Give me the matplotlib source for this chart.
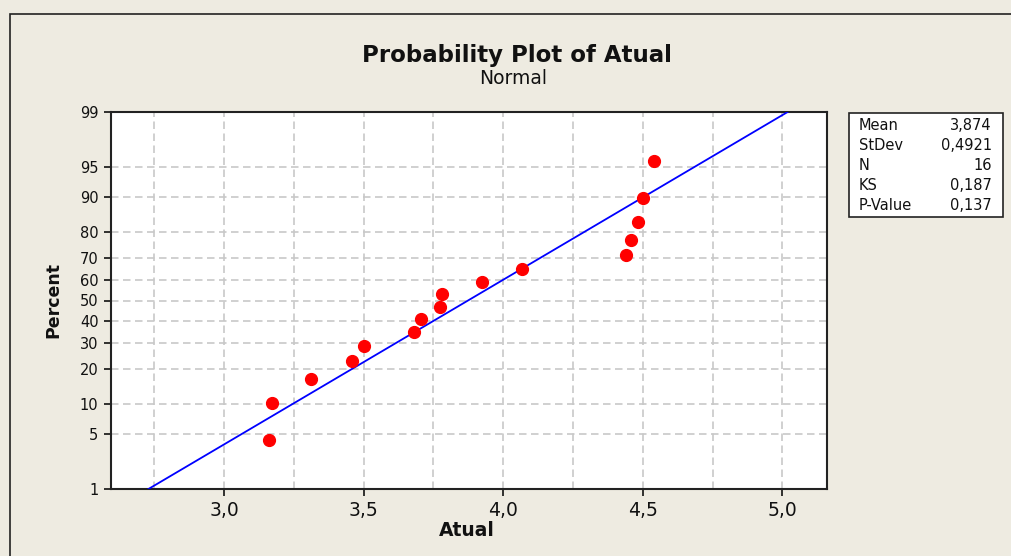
import numpy as np
import matplotlib
matplotlib.use("Agg")
import matplotlib.pyplot as plt
from matplotlib.patches import Rectangle
from statistics import NormalDist

# values
atual = [3.161, 3.173, 3.313, 3.458, 3.503, 3.679, 3.705, 3.773,
         3.780, 3.925, 4.066, 4.439, 4.458, 4.484, 4.502, 4.540]
percent = [4.3, 10.4, 16.5, 22.6, 28.7, 34.8, 40.9, 47.0,
           53.0, 59.1, 65.2, 71.3, 77.4, 83.5, 89.6, 95.7]
mean, stdev = 3.874, 0.4921
stat_names = ["Mean", "StDev", "N", "KS", "P-Value"]
stat_values = ["3,874", "0,4921", "16", "0,187", "0,137"]
y_ticks = [1, 5, 10, 20, 30, 40, 50, 60, 70, 80, 90, 95, 99]
x_ticks = [3.0, 3.5, 4.0, 4.5, 5.0]
x_labels = ["3,0", "3,5", "4,0", "4,5", "5,0"]

nd = NormalDist()

def fwd(p):
    p = np.clip(np.asarray(p, dtype=float), 1e-9, 100 - 1e-9)
    return np.vectorize(nd.inv_cdf, otypes=[float])(p / 100.0)

def inv(z):
    return np.vectorize(nd.cdf, otypes=[float])(np.asarray(z, dtype=float)) * 100.0

W, H = 1012, 556
bg = "#eeebe1"
fig = plt.figure(figsize=(W / 100, H / 100), dpi=100, facecolor=bg)

# outer frame
fig.patches.append(Rectangle((10 / W, -0.1), 1.2, 1.1 - 14 / H + 0.0,
                             transform=fig.transFigure, fill=False,
                             edgecolor="#222222", lw=1.2))

ax = fig.add_axes([111 / W, 1 - 489 / H, (827 - 111) / W, (489 - 112) / H])
ax.set_facecolor("white")
ax.set_yscale("function", functions=(fwd, inv))
ax.set_ylim(1, 99)
ax.set_xlim(2.595, 5.160)

# fitted line
line_p = np.array([1.0, 99.0])
line_x = mean + stdev * fwd(line_p)
ax.plot(line_x, line_p, color="#0000ff", lw=1.3, zorder=3)
ax.plot(atual, percent, "o", color="#ff0000", ms=8.5, mec="#ff0000", zorder=4)

ax.set_yticks(y_ticks)
ax.set_yticklabels([str(t) for t in y_ticks])
ax.yaxis.set_minor_locator(matplotlib.ticker.NullLocator())
ax.set_xticks(x_ticks)
ax.set_xticklabels(x_labels)
ax.set_xticks([2.75, 3.25, 3.75, 4.25, 4.75], minor=True)

grid_kw = dict(color="#c8c8c8", lw=1.2, linestyle=(0, (4.5, 2.7)), zorder=1)
ax.grid(True, which="both", axis="x", **grid_kw)
ax.grid(True, which="major", axis="y", **grid_kw)
ax.set_axisbelow(True)

ax.tick_params(axis="y", length=5, width=1.2, pad=4, labelsize=10.5, colors="#111111")
ax.tick_params(axis="x", which="major", length=5, width=1.2, pad=4, labelsize=13.5, colors="#111111")
ax.tick_params(axis="x", which="minor", length=0)
for s in ax.spines.values():
    s.set_linewidth(1.5)
    s.set_color("#222222")

fig.text(517 / W, 1 - 62 / H, "Probability Plot of Atual", ha="center", va="baseline",
         fontsize=16.5, fontweight="bold", color="#111111")
fig.text(513 / W, 1 - 84 / H, "Normal", ha="center", va="baseline",
         fontsize=13.5, color="#111111")
fig.text(53 / W, 1 - 300 / H, "Percent", ha="center", va="center", rotation=90,
         fontsize=12.5, fontweight="bold", color="#111111")
fig.text(467 / W, 1 - 531 / H, "Atual", ha="center", va="center",
         fontsize=13.5, fontweight="bold", color="#111111")

# stats box
fig.patches.append(Rectangle((849 / W, 1 - 217 / H), 154 / W, 104 / H,
                             transform=fig.transFigure, facecolor="white",
                             edgecolor="#222222", lw=1.2))
for i, (n, v) in enumerate(zip(stat_names, stat_values)):
    yb = 1 - (130 + 20 * i) / H
    fig.text(859 / W, yb, n, ha="left", va="baseline", fontsize=10.5, color="#111111")
    fig.text(992 / W, yb, v, ha="right", va="baseline", fontsize=10.5, color="#111111")

fig.savefig("out.png", dpi=100, facecolor=bg)
